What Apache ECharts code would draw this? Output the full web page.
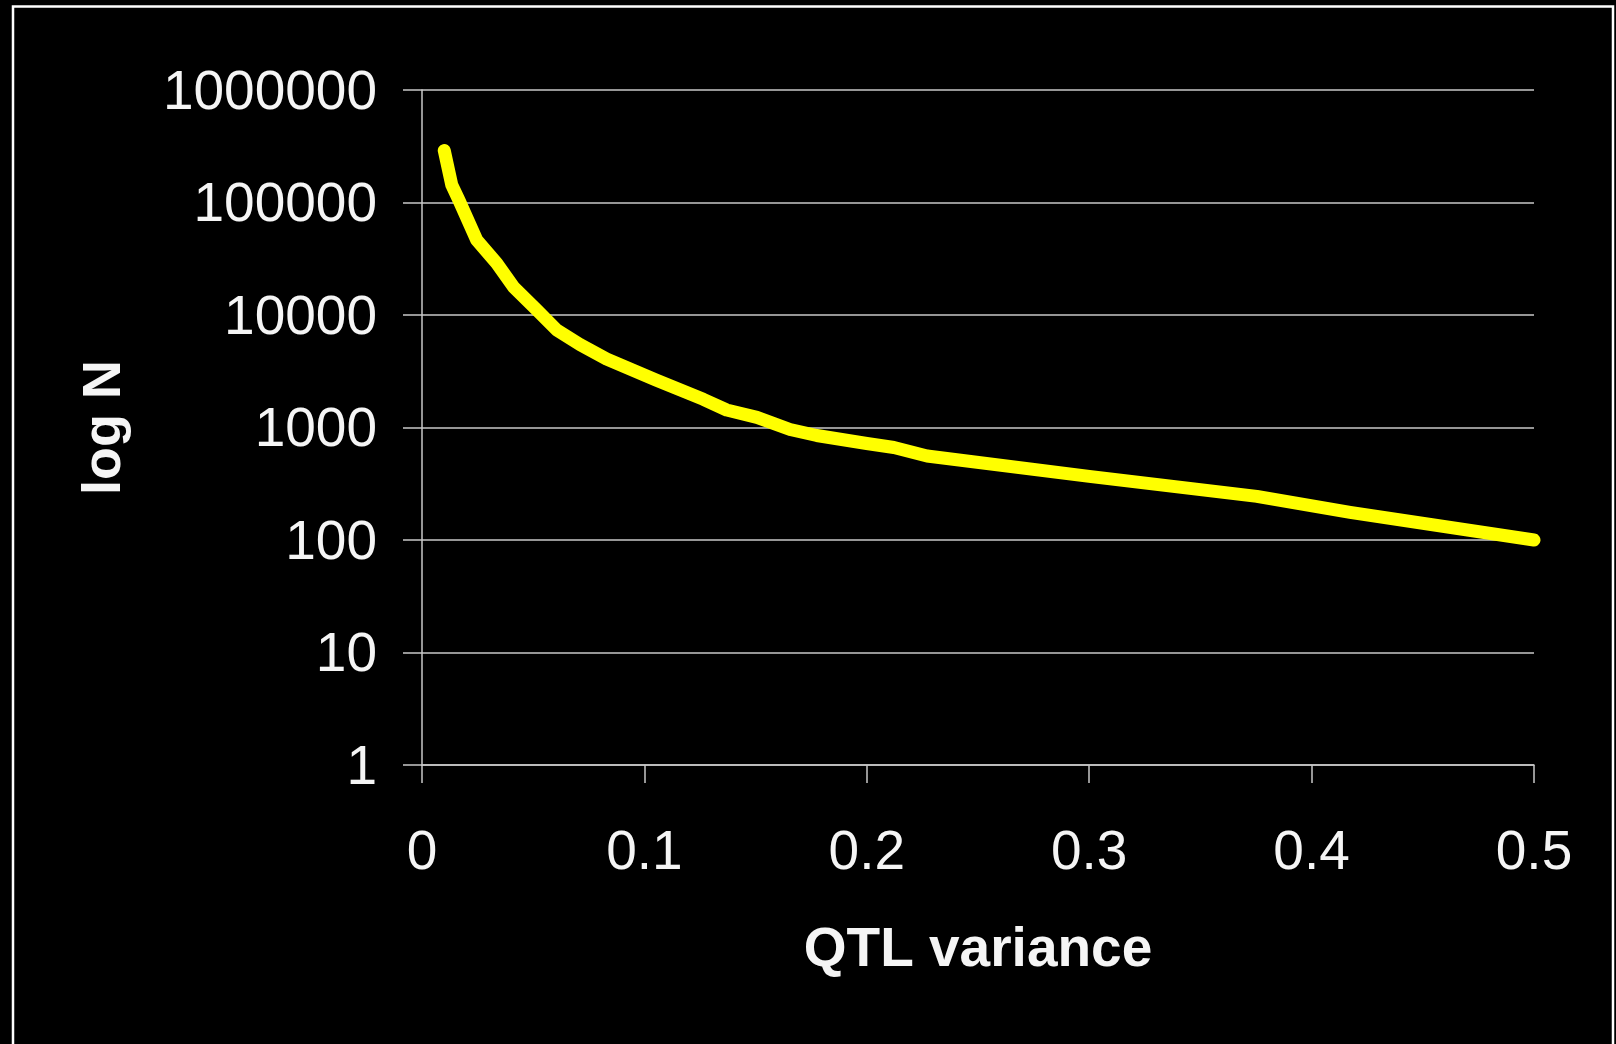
<!DOCTYPE html>
<html>
<head>
<meta charset="utf-8">
<style>
  html, body { margin: 0; padding: 0; background: #000; }
  #chart { width: 1616px; height: 1044px; }
</style>
<script src="https://cdn.jsdelivr.net/npm/echarts@6/dist/echarts.min.js"></script>
</head>
<body>
<div id="chart"></div>
<script>
// QTL variance (x) values
const qtlVariance = [0.010, 0.0134, 0.0166, 0.0246, 0.0336, 0.0411, 0.0516, 0.0606, 0.0710, 0.0830, 0.1052, 0.1265, 0.1370, 0.1506, 0.1655, 0.1775, 0.2000, 0.2122, 0.2271, 0.3000, 0.3754, 0.4173, 0.5000];
// N (sample size) values (log scale)
const sampleN = [290000, 143000, 105000, 46400, 28800, 17800, 11100, 7360, 5470, 4060, 2640, 1780, 1430, 1230, 960, 849, 721, 664, 558, 368, 244, 176, 100];
const yTickLabels = ["1", "10", "100", "1000", "10000", "100000", "1000000"];
const xTickLabels = ["0", "0.1", "0.2", "0.3", "0.4", "0.5"];

const FONT = '"Liberation Sans", Arial, sans-serif';
const chart = echarts.init(document.getElementById('chart'));
const seriesData = qtlVariance.map((x, i) => [x, sampleN[i]]);

chart.setOption({
  backgroundColor: '#000000',
  animation: false,
  graphic: [{
    type: 'rect',
    shape: { x: 13, y: 6.5, width: 1600, height: 1100 },
    style: { fill: 'none', stroke: '#ffffff', lineWidth: 2.5 },
    silent: true
  }],
  grid: { left: 422, right: 82, top: 90, bottom: 279, containLabel: false },
  xAxis: {
    type: 'value',
    min: 0, max: 0.5, interval: 0.1,
    name: 'QTL variance',
    nameLocation: 'middle',
    nameGap: 158,
    nameTextStyle: { color: '#f5f5f5', fontSize: 55, fontWeight: 'bold', fontFamily: FONT },
    axisLine: { show: true, lineStyle: { color: '#c8c8c8', width: 1.5 } },
    axisTick: { show: true, length: 18, inside: false, lineStyle: { color: '#c8c8c8', width: 1.5 } },
    axisLabel: {
      color: '#f5f5f5', fontSize: 55, fontFamily: FONT, margin: 61,
      formatter: (v) => xTickLabels[Math.round(v * 10)]
    },
    splitLine: { show: false }
  },
  yAxis: {
    type: 'log',
    logBase: 10,
    min: 1, max: 1000000, interval: 1,
    name: 'log N',
    nameLocation: 'middle',
    nameRotate: 90,
    nameGap: 290,
    nameTextStyle: { color: '#f5f5f5', fontSize: 54, fontWeight: 'bold', fontFamily: FONT },
    axisLine: { show: true, lineStyle: { color: '#c8c8c8', width: 1.5 } },
    axisTick: { show: true, length: 19, inside: false, lineStyle: { color: '#c8c8c8', width: 1.5 } },
    axisLabel: {
      color: '#f5f5f5', fontSize: 55, fontFamily: FONT, margin: 45,
      verticalAlign: 'top', lineHeight: 7,
      formatter: (v) => yTickLabels[Math.round(Math.log10(v))]
    },
    splitLine: { show: true, lineStyle: { color: '#c8c8c8', width: 1.5 } }
  },
  series: [{
    type: 'line',
    data: seriesData,
    showSymbol: false,
    symbol: 'none',
    smooth: false,
    lineStyle: { color: '#ffff00', width: 13, cap: 'round', join: 'round' },
    clip: false
  }]
});
</script>
</body>
</html>
